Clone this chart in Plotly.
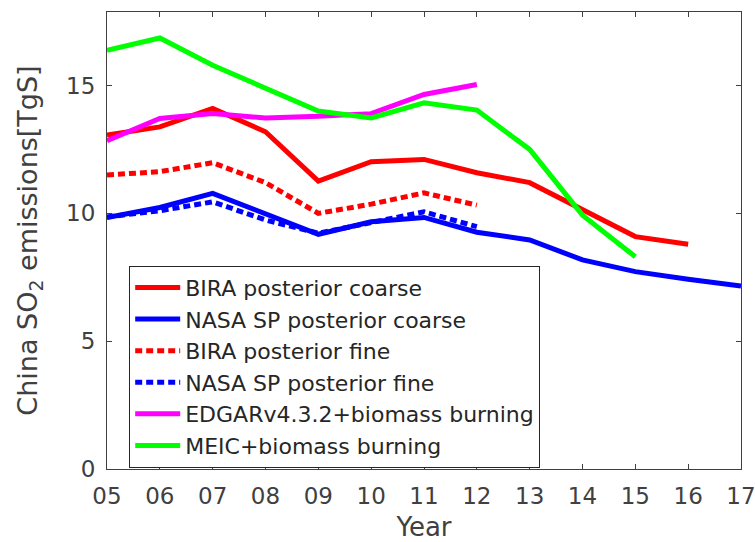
import plotly.graph_objects as go

# Years (2005-2017) and their short tick labels
years = list(range(2005, 2018))
year_labels = ["05", "06", "07", "08", "09", "10", "11", "12", "13", "14", "15", "16", "17"]

# China SO2 emissions [TgS] per dataset
bira_coarse = [13.06, 13.38, 14.10, 13.19, 11.26, 12.02, 12.11, 11.59, 11.20, 10.16, 9.09, 8.79]
nasa_coarse = [9.84, 10.23, 10.78, 10.00, 9.18, 9.67, 9.84, 9.26, 8.96, 8.18, 7.72, 7.42, 7.16]
bira_fine = [11.50, 11.63, 11.98, 11.20, 10.00, 10.36, 10.80, 10.32]
nasa_fine = [9.86, 10.10, 10.45, 9.74, 9.22, 9.63, 10.06, 9.48]
edgar = [12.84, 13.71, 13.90, 13.73, 13.80, 13.90, 14.65, 15.04]
meic = [16.38, 16.86, 15.79, 14.88, 14.00, 13.73, 14.32, 14.04, 12.50, 9.93, 8.30]

series = [
    ("BIRA posterior coarse", bira_coarse, "#ff0000", "solid"),
    ("NASA SP posterior coarse", nasa_coarse, "#0000ff", "solid"),
    ("BIRA posterior fine", bira_fine, "#ff0000", "7px,4px"),
    ("NASA SP posterior fine", nasa_fine, "#0000ff", "7px,4px"),
    ("EDGARv4.3.2+biomass burning", edgar, "#ff00ff", "solid"),
    ("MEIC+biomass burning", meic, "#00ff00", "solid"),
]

fig = go.Figure()
for name, vals, color, dash in series:
    fig.add_trace(go.Scatter(
        x=years[:len(vals)], y=vals, mode="lines", name=name,
        line=dict(color=color, width=5, dash=dash),
    ))

axis_color = "#404040"
font_family = "DejaVu Sans, Liberation Sans, Arial, sans-serif"

fig.update_layout(
    width=755, height=542,
    margin=dict(l=107, r=14, t=12, b=73),
    paper_bgcolor="white", plot_bgcolor="white",
    font=dict(family=font_family, color=axis_color),
    showlegend=True,
    legend=dict(
        x=0.035, y=0.445, xanchor="left", yanchor="top",
        bgcolor="white", bordercolor="#262626", borderwidth=1,
        font=dict(size=22, color="#262626", family=font_family),
        itemwidth=45, tracegroupgap=0,
    ),
    xaxis=dict(
        range=[2005, 2017], tickvals=years, ticktext=year_labels,
        ticks="inside", ticklen=5, tickcolor=axis_color,
        showline=True, linecolor=axis_color, linewidth=1, mirror="ticks",
        showgrid=False, zeroline=False, ticklabelstandoff=6,
        ticklabeloverflow="allow", automargin=False,
        tickfont=dict(size=23, color=axis_color),
        title=dict(text="Year", font=dict(size=26, color=axis_color), standoff=13),
    ),
    yaxis=dict(
        range=[0, 17.875], tickvals=[0, 5, 10, 15],
        ticks="inside", ticklen=5, tickcolor=axis_color,
        showline=True, linecolor=axis_color, linewidth=1, mirror="ticks",
        showgrid=False, zeroline=False, ticklabelstandoff=6,
        ticklabeloverflow="allow", automargin=False,
        tickfont=dict(size=23, color=axis_color),
        title=dict(text="China SO<sub>2</sub> emissions[TgS]",
                   font=dict(size=27, color=axis_color), standoff=20),
    ),
)

fig.write_html("out.html")
